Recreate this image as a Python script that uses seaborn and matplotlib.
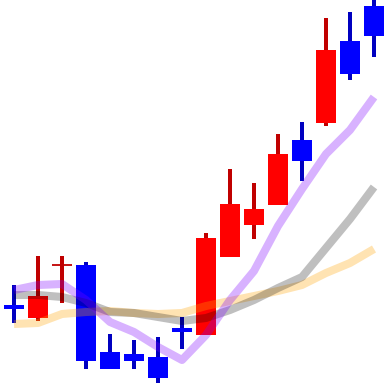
import matplotlib
matplotlib.use("Agg")
import matplotlib.pyplot as plt
import seaborn as sns
import numpy as np
import pandas as pd

# Candle data (price units)
opens  = [79, 66, 119, 119, 32, 30, 27, 56, 49, 127, 159, 179, 244, 261, 343, 378]
highs  = [99, 128, 128, 122, 50, 44, 47, 67, 151, 215, 201, 250, 262, 366, 372, 386]
lows   = [61, 63, 81, 15, 15, 15, 1, 35, 49, 127, 145, 179, 203, 258, 304, 327]
closes = [75, 88, 119, 23, 15, 23, 6, 52, 146, 180, 175, 230, 223, 334, 310, 348]

# Moving-average lines
ma_purple = [94, 99, 100, 84, 62, 52, 37, 24, 49, 84, 113, 158, 195, 230, 254, 287]
ma_gray   = [89, 89, 87, 81, 72, 71, 67, 63, 66, 74, 84, 96, 107, 136, 165, 197]
ma_yellow = [60, 61, 70, 72, 73, 71, 70, 71, 78, 83, 88, 93, 99, 111, 121, 135]

idx = np.arange(len(opens))
df = pd.DataFrame({"i": idx, "open": opens, "high": highs, "low": lows,
                   "close": closes, "ma_p": ma_purple, "ma_g": ma_gray,
                   "ma_y": ma_yellow})

sns.set_style("white")
fig = plt.figure(figsize=(3.84, 3.84), dpi=100)
ax = fig.add_axes([0, 0, 1, 1])

up = df["close"] > df["open"]
down = df["close"] < df["open"]
doji = df["close"] == df["open"]

body_w = 20 / 24
wick_w = 4 / 24
red, red_w = "#ff0000", "#c00000"
blue, blue_w = "#0000ff", "#0000c0"

# wicks
ax.bar(df.loc[up | doji, "i"], df.loc[up | doji, "high"] - df.loc[up | doji, "low"],
       bottom=df.loc[up | doji, "low"], width=wick_w, color=red_w, linewidth=0)
ax.bar(df.loc[down, "i"], df.loc[down, "high"] - df.loc[down, "low"],
       bottom=df.loc[down, "low"], width=wick_w, color=blue_w, linewidth=0)
# bodies
ax.bar(df.loc[up, "i"], df.loc[up, "close"] - df.loc[up, "open"],
       bottom=df.loc[up, "open"], width=body_w, color=red, linewidth=0)
ax.bar(df.loc[down, "i"], df.loc[down, "close"] - df.loc[down, "open"],
       bottom=df.loc[down, "open"], width=body_w, color=blue, linewidth=0)
ax.hlines(df.loc[doji, "open"], df.loc[doji, "i"] - body_w / 2,
          df.loc[doji, "i"] + body_w / 2, color=red_w, linewidth=1.3)

# moving averages
lw = 5.8
sns.lineplot(data=df, x="i", y="ma_y", ax=ax, color="#ffa500", alpha=0.3,
             linewidth=lw, solid_capstyle="butt")
sns.lineplot(data=df, x="i", y="ma_g", ax=ax, color="#000000", alpha=0.25,
             linewidth=lw, solid_capstyle="butt")
sns.lineplot(data=df, x="i", y="ma_p", ax=ax, color="#8000ff", alpha=0.3,
             linewidth=lw, solid_capstyle="butt")

ax.set_xlim(-14 / 24, 370 / 24)
ax.set_ylim(0, 384)
ax.set_axis_off()
fig.savefig("out.png", dpi=100)
